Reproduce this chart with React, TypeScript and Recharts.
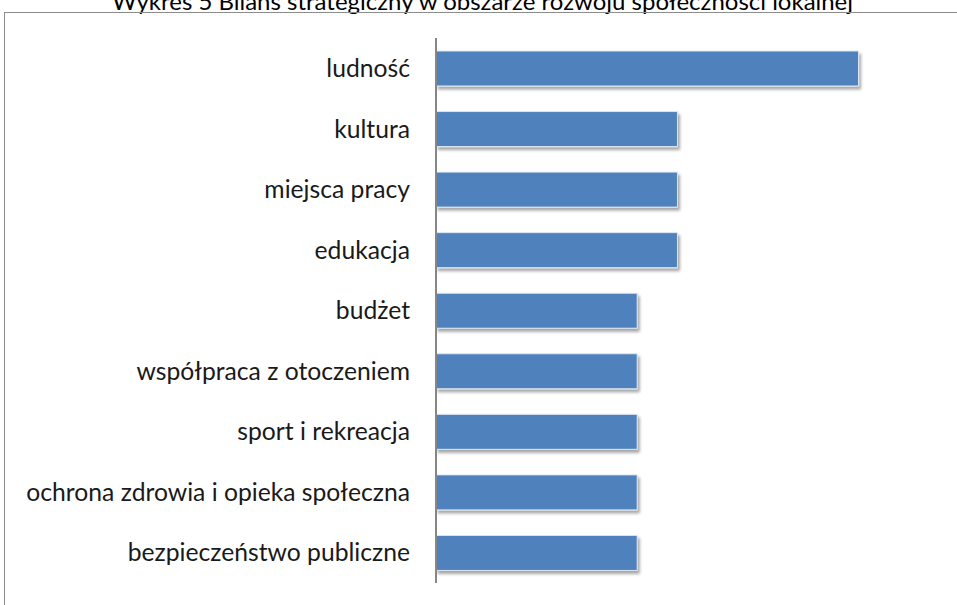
import React from 'react';
import { BarChart, Bar, XAxis, YAxis } from 'recharts';

// categories top to bottom
const categories = [
  'ludność',
  'kultura',
  'miejsca pracy ',
  'edukacja ',
  'budżet',
  'współpraca z otoczeniem',
  'sport i rekreacja',
  'ochrona zdrowia i opieka społeczna',
  'bezpieczeństwo publiczne',
];
const values = [21, 12, 12, 12, 10, 10, 10, 10, 10];

const TITLE = 'Wykres 5 Bilans strategiczny w obszarze rozwoju społeczności lokalnej';
const FONT = 'Lato, "Open Sans", sans-serif';

const data = categories.map((name, i) => ({ name, value: values[i] }));

export default function App(): React.JSX.Element {
  return (
    <div style={{ position: 'absolute', left: 0, top: 0, width: 957, height: 605, overflow: 'hidden', background: '#fff', fontFamily: FONT }}>
      {/* title is partly cut off at the top in the original */}
      <div style={{ position: 'absolute', top: -13, left: 4, width: 957, textAlign: 'center', fontSize: 24, lineHeight: '28px', color: '#000', whiteSpace: 'nowrap' }}>
        {TITLE}
      </div>
      <div style={{ position: 'absolute', left: 4, top: 12, width: 980, height: 620, border: '1px solid #8c8c8c' }} />
      <div style={{ position: 'absolute', left: 0, top: 0 }}>
        <BarChart
          width={957}
          height={605}
          layout="vertical"
          data={data}
          margin={{ top: 38, right: 18, bottom: 22, left: 0 }}
        >
          <defs>
            <filter id="barShadow" x="-5%" y="-20%" width="115%" height="160%">
              <feDropShadow dx="2" dy="3" stdDeviation="1.5" floodColor="#000" floodOpacity="0.35" />
            </filter>
          </defs>
          <XAxis type="number" domain={[0, 25]} hide />
          <YAxis
            type="category"
            dataKey="name"
            width={436}
            axisLine={{ stroke: '#868686', strokeWidth: 2 }}
            tickLine={false}
            tickSize={0}
            tickMargin={26}
            interval={0}
            tick={{ fontSize: 24.7, fill: '#1a1a1a', fontFamily: FONT }}
          />
          <Bar
            dataKey="value"
            barSize={35}
            fill="#4f81bd"
            stroke="#dde6f2"
            strokeWidth={1}
            filter="url(#barShadow)"
            isAnimationActive={false}
          />
        </BarChart>
      </div>
    </div>
  );
}
